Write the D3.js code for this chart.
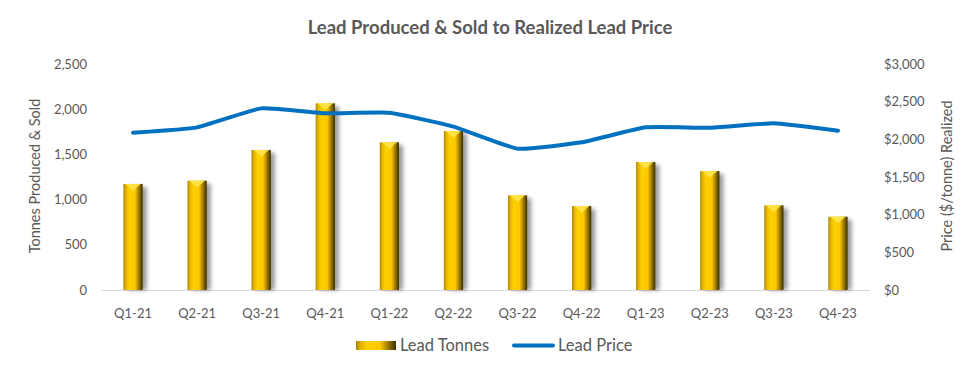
<!DOCTYPE html>
<html><head><meta charset="utf-8">
<script src="https://cdn.jsdelivr.net/npm/d3@7"></script>
<style>body{margin:0;background:#fff;} text{font-family:Lato,"Open Sans",sans-serif;}</style>
</head><body>
<svg id="c" width="979" height="380"></svg>
<script>
const categories = ["Q1-21","Q2-21","Q3-21","Q4-21","Q1-22","Q2-22","Q3-22","Q4-22","Q1-23","Q2-23","Q3-23","Q4-23"];
const leadTonnes = [1173,1209,1549,2065,1634,1759,1047,929,1416,1316,937,811];
const leadPrice = [2088,2159,2411,2345,2353,2168,1876,1960,2159,2154,2212,2114];
const leftTicks = [0,500,1000,1500,2000,2500];
const rightTicks = [0,500,1000,1500,2000,2500,3000];

const svg = d3.select("#c");
const grey = "#595959";
const x = d3.scaleBand().domain(categories).range([101,870]).paddingInner(0.7).paddingOuter(0.35);
const yL = d3.scaleLinear().domain([0,2500]).range([290,64]);
const yR = d3.scaleLinear().domain([0,3000]).range([290,64]);

const defs = svg.append("defs");
const g = defs.append("linearGradient").attr("id","gold").attr("x1","0").attr("x2","1").attr("y1","0").attr("y2","0");
[[0,"#a88400"],[0.12,"#e0b400"],[0.3,"#ffd000"],[0.6,"#ffc800"],[0.8,"#a07c00"],[1,"#3a2c00"]].forEach(s=>g.append("stop").attr("offset",s[0]).attr("stop-color",s[1]));
const f = defs.append("filter").attr("id","sh").attr("x","-50%").attr("y","-10%").attr("width","200%").attr("height","120%");
f.append("feGaussianBlur").attr("stdDeviation",2);

// Title
svg.append("text").attr("x",490).attr("y",34).attr("text-anchor","middle").attr("font-size",18.5).attr("font-weight","bold").attr("fill",grey).text("Lead Produced & Sold to Realized Lead Price");

// axis line
svg.append("line").attr("x1",101).attr("x2",870).attr("y1",290.5).attr("y2",290.5).attr("stroke","#d9d9d9").attr("stroke-width",1);

// left ticks
svg.append("g").selectAll("text").data(leftTicks).join("text")
  .attr("x",87).attr("y",d=>yL(d)).attr("dy","0.35em").attr("text-anchor","end")
  .attr("font-size",13).attr("fill",grey).text(d=>d3.format(",")(d));
// right ticks
svg.append("g").selectAll("text").data(rightTicks).join("text")
  .attr("x",884).attr("y",d=>yR(d)).attr("dy","0.35em").attr("text-anchor","start")
  .attr("font-size",13).attr("fill",grey).text(d=>"$"+d3.format(",")(d));
// x labels
svg.append("g").selectAll("text").data(categories).join("text")
  .attr("x",d=>x(d)+x.bandwidth()/2).attr("y",313).attr("dy","0.35em").attr("text-anchor","middle")
  .attr("font-size",13).attr("fill",grey).text(d=>d);

// axis titles
svg.append("text").attr("transform","translate(40,176) rotate(-90)").attr("text-anchor","middle").attr("font-size",14.5).attr("fill",grey).text("Tonnes Produced & Sold");
svg.append("text").attr("transform","translate(952,176) rotate(-90)").attr("text-anchor","middle").attr("font-size",14.5).attr("fill",grey).text("Price ($/tonne) Realized");

// bars
const bw = x.bandwidth();
const bars = svg.append("g");
const data = categories.map((c,i)=>({c, v:leadTonnes[i]}));
bars.selectAll("rect.sh").data(data).join("rect").attr("class","sh")
  .attr("x",d=>x(d.c)+4).attr("y",d=>yL(d.v)+3).attr("width",bw).attr("height",d=>290-yL(d.v)-3)
  .attr("fill","#000").attr("opacity",0.4).attr("filter","url(#sh)");
bars.selectAll("rect.b").data(data).join("rect").attr("class","b")
  .attr("x",d=>x(d.c)).attr("y",d=>yL(d.v)).attr("width",bw).attr("height",d=>290-yL(d.v))
  .attr("fill","url(#gold)");
bars.selectAll("path.tri").data(data).join("path").attr("class","tri")
  .attr("d",d=>{const x0=x(d.c), y0=yL(d.v); return `M${x0+2},${y0}L${x0+bw-2},${y0}L${x0+bw/2},${y0+bw*0.35}Z`;})
  .attr("fill","#ffe44a").attr("opacity",0.9);

// line
const line = d3.line().x((d,i)=>x(categories[i])+bw/2).y(d=>yR(d)).curve(d3.curveCardinal.tension(0.6));
svg.append("path").datum(leadPrice).attr("d",line).attr("fill","none").attr("stroke","#0070c0").attr("stroke-width",4).attr("stroke-linejoin","round").attr("stroke-linecap","round");

// legend
const lg = svg.append("g");
lg.append("rect").attr("x",356).attr("y",341).attr("width",40).attr("height",9).attr("fill","url(#gold)");
lg.append("text").attr("x",400).attr("y",345.5).attr("dy","0.35em").attr("font-size",16.5).attr("fill",grey).text("Lead Tonnes");
lg.append("line").attr("x1",514).attr("x2",553).attr("y1",345.5).attr("y2",345.5).attr("stroke","#0070c0").attr("stroke-width",4).attr("stroke-linecap","round");
lg.append("text").attr("x",558).attr("y",345.5).attr("dy","0.35em").attr("font-size",16.5).attr("fill",grey).text("Lead Price");
</script>
</body></html>
